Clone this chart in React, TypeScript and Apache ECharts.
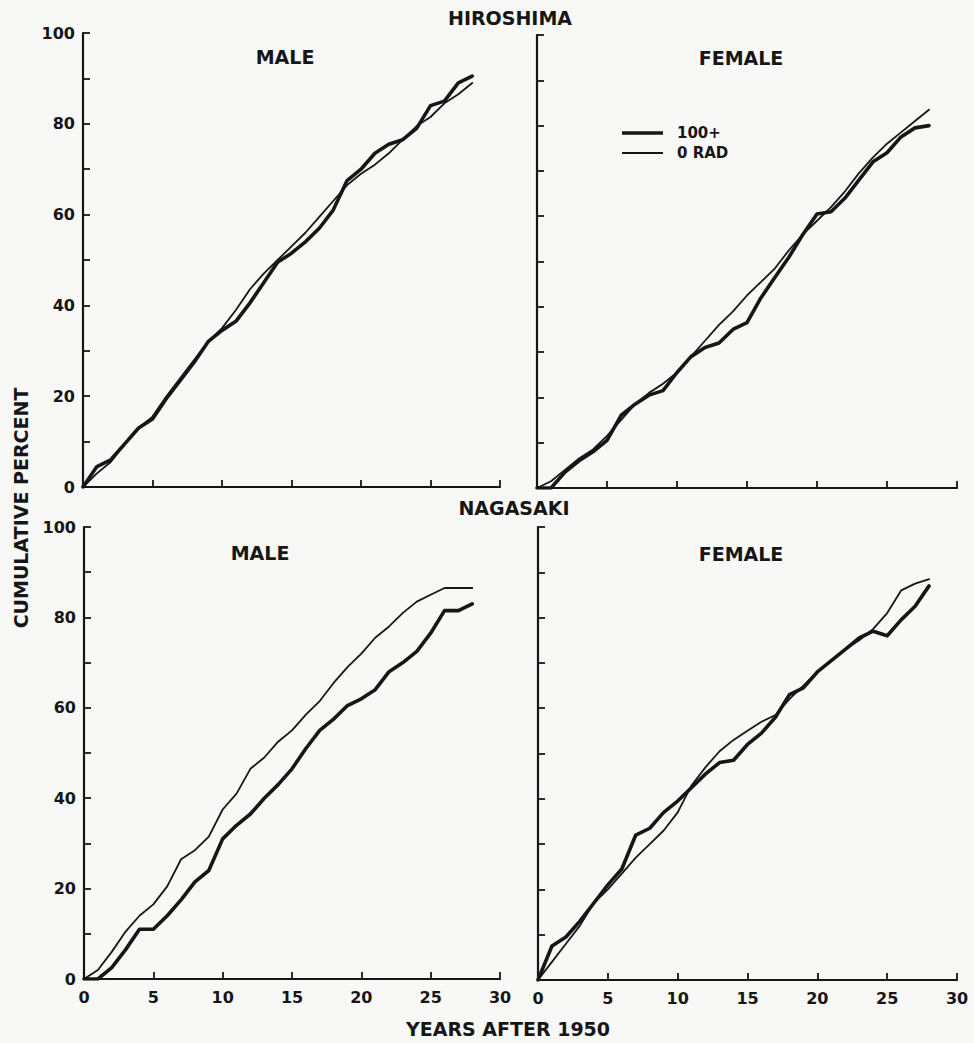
import React, { useEffect, useRef } from "react";
import * as echarts from "echarts";

// ---- Data ----
const YEARS = [0, 1, 2, 3, 4, 5, 6, 7, 8, 9, 10, 11, 12, 13, 14, 15, 16, 17, 18, 19, 20, 21, 22, 23, 24, 25, 26, 27, 28];

const X_TICKS = [0, 5, 10, 15, 20, 25, 30];
const Y_LABELS = [0, 20, 40, 60, 80, 100];

const SERIES_NAMES = ["100+", "0 RAD"];
const PANEL_CITIES = ["HIROSHIMA", "NAGASAKI"];
const PANEL_SEXES = ["MALE", "FEMALE"];

// Hiroshima, male
const HIRO_MALE_100 = [0, 4.5, 6, 9.5, 13, 15, 19.5, 23.5, 27.5, 32, 34.5, 36.5, 40.5, 45, 49.5, 51.5, 54, 57, 61, 67.5, 70, 73.5, 75.5, 76.5, 79, 84, 85, 89, 90.5];
const HIRO_MALE_0 = [0, 3, 5.5, 9.5, 13, 15.5, 20, 24, 28, 32, 35, 39, 43.5, 47, 50, 53, 56, 59.5, 63, 66.5, 69, 71, 73.5, 76.5, 79.5, 81.5, 84.5, 86.5, 89];
// Hiroshima, female
const HIRO_FEMALE_100 = [0, 0, 3.5, 6, 8, 10.5, 16, 18.5, 20.5, 21.5, 25.5, 29, 31, 32, 35, 36.5, 42, 46.5, 51, 56, 60.5, 61, 64, 68, 72, 74, 77.5, 79.5, 80];
const HIRO_FEMALE_0 = [0, 1.5, 4, 6.5, 8.5, 11.5, 15, 18.5, 21, 23, 25.5, 29, 32.5, 36, 39, 42.5, 45.5, 48.5, 52.5, 56, 59, 62, 65.5, 69.5, 73, 76, 78.5, 81, 83.5];
// Nagasaki, male
const NAGA_MALE_100 = [0, 0, 2.5, 6.5, 11, 11, 14, 17.5, 21.5, 24, 31, 34, 36.5, 40, 43, 46.5, 51, 55, 57.5, 60.5, 62, 64, 68, 70, 72.5, 76.5, 81.5, 81.5, 83];
const NAGA_MALE_0 = [0, 2, 6, 10.5, 14, 16.5, 20.5, 26.5, 28.5, 31.5, 37.5, 41, 46.5, 49, 52.5, 55, 58.5, 61.5, 65.5, 69, 72, 75.5, 78, 81, 83.5, 85, 86.5, 86.5, 86.5];
// Nagasaki, female
const NAGA_FEMALE_100 = [0, 7.5, 9.5, 13, 17, 21, 24.5, 32, 33.5, 37, 39.5, 42.5, 45.5, 48, 48.5, 52, 54.5, 58, 63, 64.5, 68, 70.5, 73, 75.5, 77, 76, 79.5, 82.5, 87];
const NAGA_FEMALE_0 = [0, 4, 8, 12, 17, 20, 23.5, 27, 30, 33, 37, 43, 47, 50.5, 53, 55, 57, 58.5, 62, 65, 68, 70.5, 73, 75, 77.5, 81, 86, 87.5, 88.5];

const PANELS = [
  [HIRO_MALE_100, HIRO_MALE_0],
  [HIRO_FEMALE_100, HIRO_FEMALE_0],
  [NAGA_MALE_100, NAGA_MALE_0],
  [NAGA_FEMALE_100, NAGA_FEMALE_0],
];

const FONT = '"DejaVu Sans", sans-serif';
const INK = "#161616";
const THICK = 3.6;
const THIN = 1.8;

export default function App() {
  const ref = useRef<HTMLDivElement>(null);

  useEffect(() => {
    if (!ref.current) return;
    const chart = echarts.init(ref.current, undefined, { renderer: "svg" });

    const grids = [
      { left: 83, top: 33, width: 417, height: 454 },
      { left: 537, top: 35, width: 420, height: 453 },
      { left: 84, top: 527, width: 416, height: 452 },
      { left: 538, top: 527, width: 419, height: 453 },
    ].map((g) => ({ ...g, outerBoundsMode: "none", containLabel: false }));

    const xAxes = grids.map((_, i) => ({
      type: "value",
      gridIndex: i,
      min: X_TICKS[0],
      max: X_TICKS[X_TICKS.length - 1],
      interval: 5,
      axisLine: { show: true, onZero: false, lineStyle: { color: INK, width: 2.2 } },
      axisTick: { show: true, inside: true, length: 7, lineStyle: { color: INK, width: 1.8 } },
      axisLabel: {
        show: i >= 2,
        margin: 10,
        color: INK,
        fontFamily: FONT,
        fontWeight: "bold",
        fontSize: 16,
        showMinLabel: true,
        showMaxLabel: true,
      },
      splitLine: { show: false },
    }));

    const yAxes = grids.map((_, i) => ({
      type: "value",
      gridIndex: i,
      min: 0,
      max: 100,
      interval: 10,
      axisLine: { show: true, onZero: false, lineStyle: { color: INK, width: 2.2 } },
      axisTick: { show: true, inside: true, length: 7, lineStyle: { color: INK, width: 1.8 } },
      axisLabel: {
        show: i % 2 === 0,
        margin: 8,
        color: INK,
        fontFamily: FONT,
        fontWeight: "bold",
        fontSize: 16,
        formatter: (v: number) => (Y_LABELS.includes(v) ? String(v) : ""),
      },
      splitLine: { show: false },
    }));

    const series: any[] = [];
    PANELS.forEach((pair, i) => {
      pair.forEach((vals, k) => {
        series.push({
          name: SERIES_NAMES[k],
          type: "line",
          xAxisIndex: i,
          yAxisIndex: i,
          symbol: "none",
          smooth: false,
          data: YEARS.map((y, j) => [y, vals[j]]),
          lineStyle: { color: INK, width: k === 0 ? THICK : THIN, cap: "round", join: "round" },
          itemStyle: { color: INK },
          emphasis: { disabled: true },
        });
      });
    });

    const titleText = (text: string, x: number, y: number, size = 19) => ({
      type: "text",
      x,
      y,
      style: {
        text,
        fill: INK,
        font: `bold ${size}px ${FONT}`,
        textAlign: "center",
        textVerticalAlign: "middle",
      },
    });

    const legendItem = (label: string, y: number, width: number) => [
      {
        type: "line",
        shape: { x1: 622, y1: y, x2: 663, y2: y },
        style: { stroke: INK, lineWidth: width },
      },
      {
        type: "text",
        x: 677,
        y,
        style: {
          text: label,
          fill: INK,
          font: `bold 15px ${FONT}`,
          textAlign: "left",
          textVerticalAlign: "middle",
        },
      },
    ];

    chart.setOption({
      animation: false,
      backgroundColor: "#f8f8f6",
      grid: grids,
      xAxis: xAxes,
      yAxis: yAxes,
      series,
      graphic: [
        titleText(PANEL_CITIES[0], 510, 18),
        titleText(PANEL_CITIES[1], 514, 508),
        titleText(PANEL_SEXES[0], 285, 57),
        titleText(PANEL_SEXES[1], 741, 58),
        titleText(PANEL_SEXES[0], 260, 553),
        titleText(PANEL_SEXES[1], 741, 554),
        ...legendItem(SERIES_NAMES[0], 133, THICK),
        ...legendItem(SERIES_NAMES[1], 153, THIN),
        {
          type: "text",
          x: 21,
          y: 508,
          rotation: Math.PI / 2,
          style: {
            text: "CUMULATIVE PERCENT",
            fill: INK,
            font: `bold 19px ${FONT}`,
            textAlign: "center",
            textVerticalAlign: "middle",
          },
        },
        titleText("YEARS AFTER 1950", 508, 1029, 19),
      ],
    });

    return () => chart.dispose();
  }, []);

  return (
    <div
      ref={ref}
      style={{ position: "absolute", left: 0, top: 0, width: 974, height: 1043 }}
    />
  );
}
